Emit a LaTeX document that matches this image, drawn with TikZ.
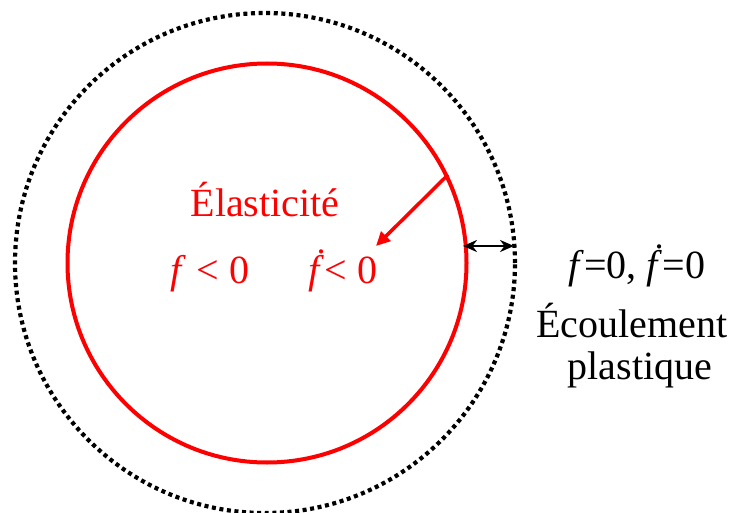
\documentclass[tikz,border=0pt]{standalone}
\usepackage{fontspec}
\setmainfont{Liberation Serif}
\usetikzlibrary{arrows.meta}

\begin{document}
\begin{tikzpicture}[x=1pt, y=-1pt,
    yield/.style={circle, draw=red, line width=4pt, inner sep=0pt},
    limit/.style={circle, draw=black, line width=4.2pt, dash pattern=on 4pt off 3.6pt, inner sep=0pt},
    redlabel/.style={text=red, anchor=base, inner sep=0pt, font=\fontsize{40}{48}\selectfont},
    blacklabel/.style={text=black, anchor=base, inner sep=0pt, font=\fontsize{40}{48}\selectfont},
    arrow/.style={-{Triangle[length=14pt,width=13pt]}, red, line width=3.5pt},
    gap/.style={{Stealth[length=14pt,width=12pt]}-{Stealth[length=14pt,width=12pt]}, line width=2.5pt}
]
    \useasboundingbox (0,0) rectangle (736,513);

    % surfaces
    \node[limit, minimum size=500pt] (outer) at (265,263) {};
    \node[yield, minimum size=399pt] (inner) at (267,263) {};

    % labels
    \node[redlabel] (elas) at (265,217) {Élasticité};
    \node[redlabel] (fneg) at (210,283) {\textit{f} < 0};
    \node[redlabel] (fdotneg) at (343,283) {\textit{\.{f}}< 0};
    \node[blacklabel] (cond) at (637,278) {\textit{f}=0, \textit{\.{f}}=0};
    \node[blacklabel] (flow) at (632,337) {Écoulement};
    \node[blacklabel] (plast) at (640,379) {plastique};

    % arrows
    \coordinate (tip) at (376,246);
    \coordinate (gapin) at (463,246);
    \coordinate (gapout) at (514,246);
    \draw[arrow] (inner.26) -- (tip);
    \draw[gap] (gapin) -- (gapout);
\end{tikzpicture}
\end{document}
